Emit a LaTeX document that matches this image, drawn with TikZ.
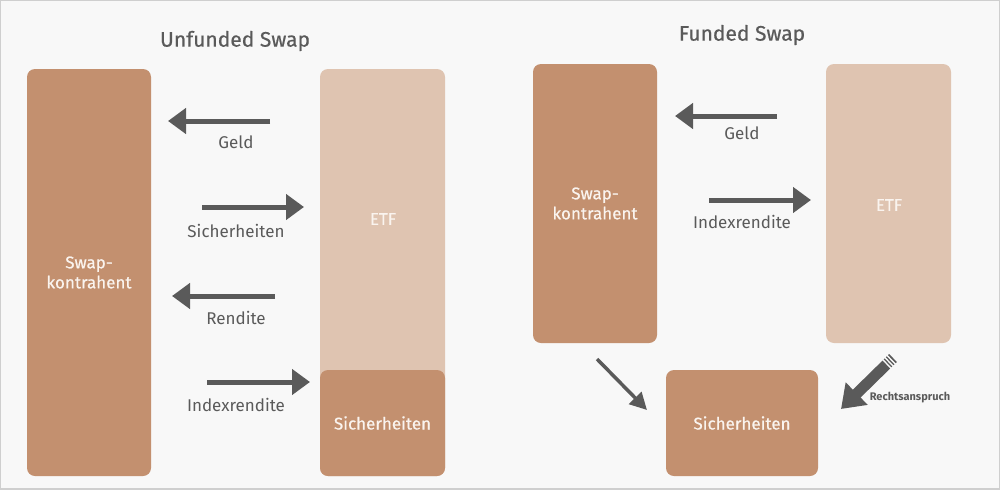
\documentclass[tikz,border=0pt]{standalone}
\usepackage{fontspec}
\setmainfont{Fira Sans}
\newfontfamily\medfont{Fira Sans}[FakeBold=0.6]
\usetikzlibrary{arrows.meta,calc}
\definecolor{bg}{HTML}{F8F8F8}
\definecolor{frame}{HTML}{CFCFCF}
\definecolor{darkbox}{HTML}{C3906F}
\definecolor{lightbox}{HTML}{DFC4B1}
\definecolor{arrowgray}{HTML}{5A5A5A}
\definecolor{txtgray}{HTML}{5A5A5A}
\definecolor{boxtxt}{HTML}{FAF4EF}
\tikzset{
  darkfill/.style={fill=darkbox, draw=none, rounded corners=8pt, inner sep=0pt},
  lightfill/.style={fill=lightbox, draw=none, rounded corners=8pt, inner sep=0pt},
  boxlabel/.style={text=boxtxt, font=\medfont\fontsize{17}{20}\selectfont, align=center},
  arrlabel/.style={text=txtgray, font=\fontsize{17}{20}\selectfont},
  titlelabel/.style={text=txtgray, font=\medfont\fontsize{21}{25}\selectfont},
  bigarrow/.style={draw=arrowgray, line width=5pt, -{Triangle[length=18pt,width=25pt]}},
  thinarrow/.style={draw=arrowgray, line width=3.5pt, -{Triangle[length=17pt,width=17pt]}},
  pencilarrow/.style={draw=arrowgray, line width=11pt, -{Triangle[length=22pt,width=30pt]}},
}
\begin{document}
\begin{tikzpicture}[x=1pt,y=-1pt]
\fill[frame] (0,0) rectangle (1000,490);
\fill[bg] (1,1) rectangle (999,488);
\useasboundingbox (0,0) rectangle (1000,490);

% titles
\node[titlelabel] (t1) at (235,41) {Unfunded Swap};
\node[titlelabel] (t2) at (742,35) {Funded Swap};

% left side boxes
\node[darkfill, minimum width=124pt, minimum height=407pt] (swapL) at (89,272.5) {};
\node[boxlabel] (swapLt) at (swapL) {Swap-\\kontrahent};
\node[lightfill, minimum width=125pt, minimum height=407pt] (etfL) at (382.5,272.5) {};
\node[boxlabel] (etfLt) at (383,219) {ETF};
\node[darkfill, minimum width=125pt, minimum height=106pt] (sichL) at (382.5,423) {};
\node[boxlabel] (sichLt) at (sichL) {Sicherheiten};

% left arrows
\coordinate (a1s) at (270,121); \coordinate (a1e) at (168,121);
\coordinate (a2s) at (202,207); \coordinate (a2e) at (304,207);
\coordinate (a3s) at (275,296); \coordinate (a3e) at (172,296);
\coordinate (a4s) at (207,382); \coordinate (a4e) at (310,382);
\draw[bigarrow] (a1s) -- (a1e);
\draw[bigarrow] (a2s) -- (a2e);
\draw[bigarrow] (a3s) -- (a3e);
\draw[bigarrow] (a4s) -- (a4e);
\node[arrlabel] (l1) at (236,142) {Geld};
\node[arrlabel] (l2) at (236,231) {Sicherheiten};
\node[arrlabel] (l3) at (236,318) {Rendite};
\node[arrlabel] (l4) at (236,405) {Indexrendite};

% right side boxes
\node[darkfill, minimum width=124pt, minimum height=279pt] (swapR) at (595,203.5) {};
\node[boxlabel] (swapRt) at (swapR) {Swap-\\kontrahent};
\node[lightfill, minimum width=125pt, minimum height=279pt] (etfR) at (888.5,203.5) {};
\node[boxlabel] (etfRt) at (889,205) {ETF};
\node[darkfill, minimum width=152pt, minimum height=106pt] (sichR) at (742,423) {};
\node[boxlabel] (sichRt) at (sichR) {Sicherheiten};

% right arrows
\coordinate (b1s) at (777,116); \coordinate (b1e) at (675,116);
\coordinate (b2s) at (709,200); \coordinate (b2e) at (811,200);
\draw[bigarrow] (b1s) -- (b1e);
\draw[bigarrow] (b2s) -- (b2e);
\node[arrlabel] (r1) at (742,133) {Geld};
\node[arrlabel] (r2) at (742,222) {Indexrendite};

% diagonal arrow
\coordinate (d1s) at (597,359); \coordinate (d1e) at (647,410);
\draw[thinarrow] (d1s) -- (d1e);

% pencil arrow
\coordinate (p1s) at (893,358); \coordinate (p1e) at (841,409);
\draw[pencilarrow] (p1s) -- (p1e);
\foreach \t in {2.5,5.5,8.5}{
  \draw[bg, line width=1.4pt] ($(p1s)!\t pt!(p1e)!6.5pt!90:(p1e)$) -- ($(p1s)!\t pt!(p1e)!6.5pt!-90:(p1e)$);
}
\node[text=txtgray, font=\fontsize{11}{13}\selectfont\bfseries] (r3) at (910,398) {Rechtsanspruch};
\end{tikzpicture}
\end{document}
